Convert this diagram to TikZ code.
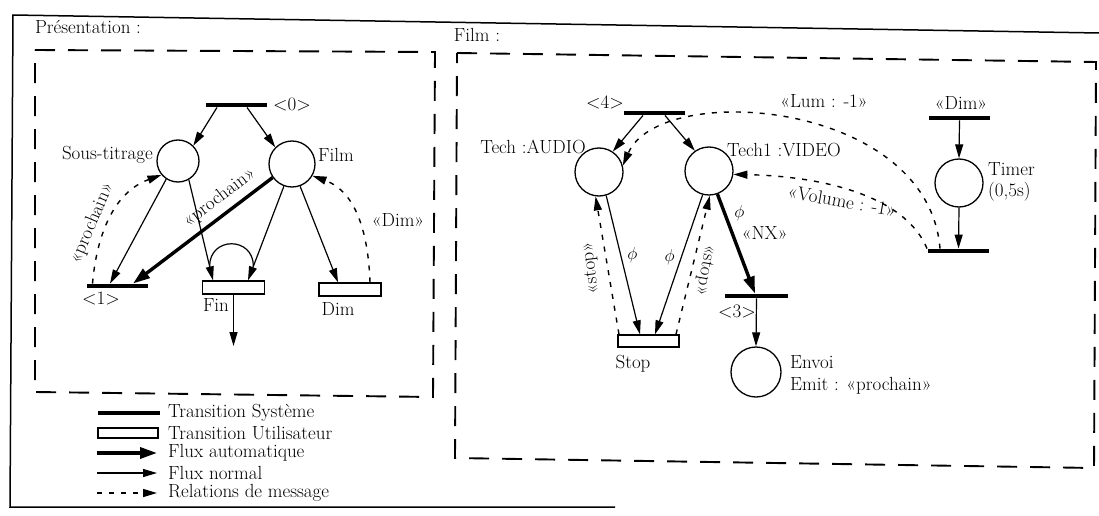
\documentclass[tikz,border=0pt]{standalone}
\usetikzlibrary{arrows.meta}
\begin{document}
\begin{tikzpicture}[x=1pt,y=-1pt]
\tikzstyle{every node}=[font=\fontsize{19}{21}\selectfont, inner sep=0pt]
\tikzstyle{lieu}=[draw, circle, line width=1.3pt, minimum size=46pt]
\tikzstyle{trsys}=[fill=black, minimum width=61pt, minimum height=4.5pt]
\tikzstyle{trusr}=[draw, line width=1.3pt, minimum width=62pt, minimum height=13pt]
\tikzstyle{flux}=[line width=1.2pt, -{Triangle[length=14pt,width=8pt]}]
\tikzstyle{fluxauto}=[line width=3.4pt, -{Triangle[length=17pt,width=11pt]}]
\tikzstyle{msg}=[line width=1.4pt, dash pattern=on 5pt off 7pt, -{Triangle[length=14pt,width=8pt]}]
\tikzstyle{cadre}=[line width=1.9pt, dash pattern=on 20pt off 13pt]
\useasboundingbox (0,0) rectangle (1099,516);

\draw[line width=1.5pt] (1099,33) -- (13,15) -- (10,507) -- (615,507);
\node (titpres) at (88,27) {Présentation :};
\node (titfilm) at (477,35) {Film :};
\draw[cadre] (35,50) -- (435,52) -- (433,397) -- (35,392) -- cycle;
\draw[cadre] (457,53) -- (1096,62) -- (1094,468) -- (455,458) -- cycle;

\node[trsys] (t0) at (236,105) {};
\node (l0) at (292,104) {<0>};
\node[lieu, minimum size=42pt] (psous) at (178,161) {};
\node[lieu] (pfilm) at (292,164) {};
\node[anchor=east] (lsous) at (153,155) {Sous-titrage};
\node[anchor=west] (lfilm) at (318,155) {Film};
\node[trsys] (t1) at (117.5,286) {};
\node (l1) at (101,298) {<1>};
\node[trusr] (tfin) at (233.5,287.5) {};
\node (lfin) at (216,305) {Fin};
\node[trusr] (tdim) at (350,289.5) {};
\node (ldim) at (338,309) {Dim};
\coordinate (fout) at (233.5,346);

\draw[flux] ([xshift=-19pt]t0.south) -- (psous.45);
\draw[flux] ([xshift=11pt]t0.south) -- (pfilm.135);
\draw[flux] (psous.237) -- ([xshift=-7.5pt]t1.north);
\draw[flux] (psous.300) -- coordinate[pos=0.86] (j1) ([xshift=-20.5pt]tfin.north);
\draw[flux] (pfilm.250) -- coordinate[pos=0.85] (j2) ([xshift=14.5pt]tfin.north);
\draw[flux] (pfilm.290) -- ([xshift=-12pt]tdim.north);
\draw[fluxauto] (pfilm.215) -- node[sloped, above=6pt, pos=0.31] (lpro) {«prochain»} ([xshift=15.5pt]t1.north);
\draw[line width=1.2pt] (j1) .. controls +(0,-30) and +(0,-30) .. (j2);
\draw[flux] (tfin.south) -- (fout);
\draw[msg] ([xshift=-25pt]t1.north) to[out=85, in=200] node[sloped, above=5pt, pos=0.4] (lmsgpro) {«prochain»} (psous.220);
\draw[msg] ([xshift=20pt]tdim.north) to[out=92, in=-20] (pfilm.-30);
\node (lmsgdim) at (398,220) {«Dim»};

\node[trsys] (t4) at (654.5,113) {};
\node (l4) at (605,102) {<4>};
\node[lieu, minimum size=48pt] (paudio) at (599,172) {};
\node[lieu, minimum size=48pt] (pvideo) at (709,171) {};
\node[anchor=east] (laudio) at (586,147) {Tech :AUDIO};
\node[anchor=west] (lvideo) at (727,150) {Tech1 :VIDEO};
\node[trusr, minimum width=61pt, minimum height=12pt] (tstop) at (648.5,341) {};
\node (lstop) at (633,364) {Stop};
\node[trsys, minimum width=63pt] (t3) at (756.5,296) {};
\node (l3) at (737,311) {<3>};
\node[lieu, minimum size=50pt] (penvoi) at (756,372) {};
\node[anchor=west] (lenvoi) at (790,362) {Envoi};
\node[anchor=west] (lemit) at (790,386) {Emit : «prochain»};
\node[trsys] (tdimh) at (959.5,118) {};
\node (ldimh) at (961,103) {«Dim»};
\node[lieu, minimum size=48pt] (ptimer) at (959,183) {};
\node[anchor=west, align=left] (ltimer) at (988,182) {Timer\\(0,5s)};
\node[trsys] (ttimer) at (958.5,251) {};

\draw[flux] ([xshift=-11.5pt]t4.south) -- (paudio.56);
\draw[flux] ([xshift=10.5pt]t4.south) -- (pvideo.125);
\draw[flux] (paudio.287) -- node[pos=0.43, right=6pt] (lphi1) {$\phi$} ([xshift=-8.5pt]tstop.north);
\draw[flux] (pvideo.255) -- node[pos=0.45, left=6pt] (lphi2) {$\phi$} ([xshift=6.5pt]tstop.north);
\draw[msg] ([xshift=-29.5pt]tstop.north) -- (paudio.262);
\draw[msg] ([xshift=27.5pt]tstop.north) -- (pvideo.272);
\node[rotate=97] (lstop1) at (591,268) {«stop»};
\node[rotate=-100] (lstop2) at (705,270) {«stop»};
\draw[fluxauto] (pvideo.290) -- node[pos=0.19, right=8pt] (lphi3) {$\phi$} node[pos=0.39, right=8pt] (lnx) {«NX»} ([xshift=-1.5pt]t3.north);
\draw[flux] (t3.south) -- (penvoi.north);
\draw[flux] (tdimh.south) -- (ptimer.north);
\draw[flux] (ptimer.south) -- (ttimer.north);
\draw[msg] ([xshift=-18.5pt]ttimer.north) .. controls (928,100) and (660,80) .. (paudio.15);
\node (llum) at (824,101) {«Lum : -1»};
\draw[msg] ([xshift=-31.5pt]ttimer.north) .. controls (905,195) and (820,176) .. (pvideo.-8);
\node[rotate=-10] (lvol) at (842,201) {«Volume : -1»};

\node[trsys, minimum width=62pt] (lgsys) at (129,413) {};
\node[anchor=west] (txsys) at (168,413) {Transition Système};
\node[trusr, minimum width=60pt, minimum height=10pt] (lgusr) at (128,433) {};
\node[anchor=west] (txusr) at (168,433) {Transition Utilisateur};
\node[anchor=west] (txauto) at (168,453) {Flux automatique};
\node[anchor=west] (txnorm) at (168,473) {Flux normal};
\node[anchor=west] (txmsg) at (168,493) {Relations de message};
\draw[fluxauto] ([xshift=-71pt]txauto.west) -- ([xshift=-11pt]txauto.west);
\draw[flux] ([xshift=-71pt]txnorm.west) -- ([xshift=-11pt]txnorm.west);
\draw[msg] ([xshift=-71pt]txmsg.west) -- ([xshift=-11pt]txmsg.west);
\end{tikzpicture}
\end{document}
